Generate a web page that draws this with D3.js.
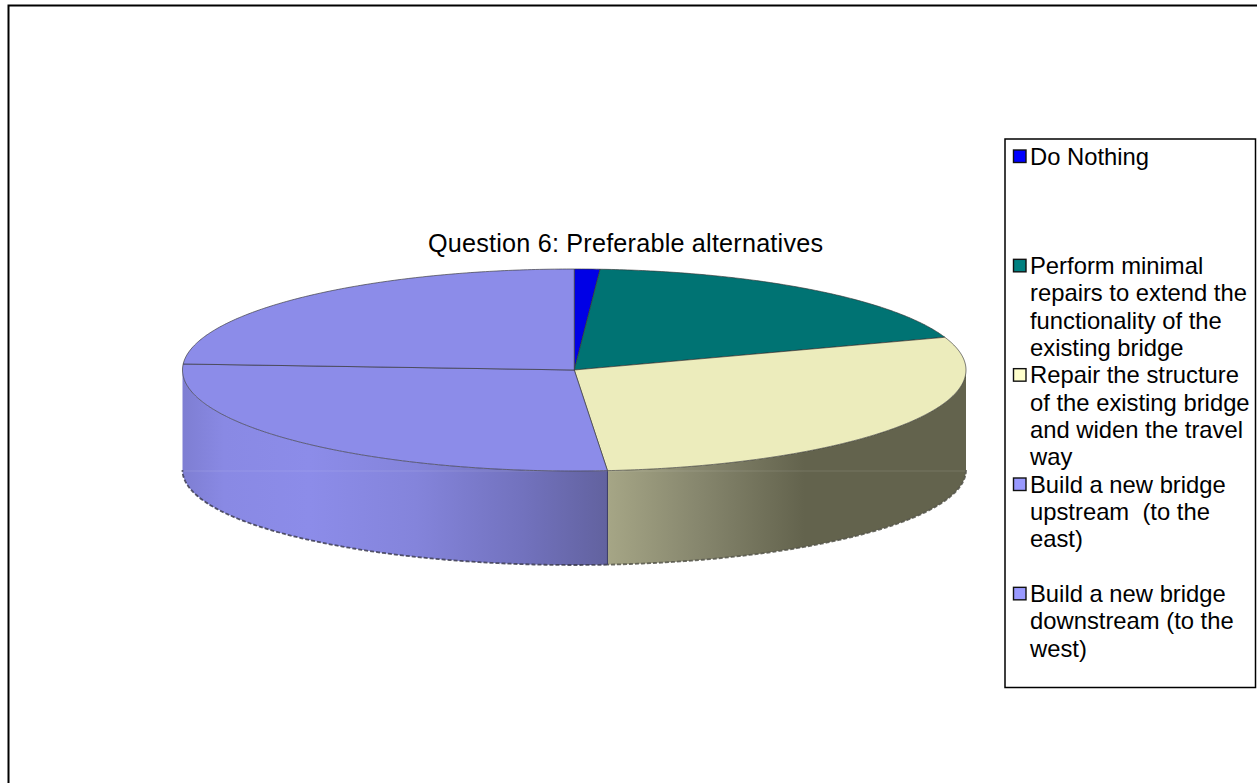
<!DOCTYPE html>
<html><head><meta charset="utf-8">
<script src="https://cdn.jsdelivr.net/npm/d3@7"></script>
<style>html,body{margin:0;padding:0;background:#fff}svg{display:block}text{font-family:"Liberation Sans",Arial,sans-serif;fill:#000}</style>
</head><body><svg id="c" width="1257" height="783"></svg>
<script>
const categories = ["Do Nothing","Perform minimal repairs to extend the functionality of the existing bridge","Repair the structure of the existing bridge and widen the travel way","Build a new bridge upstream  (to the east)","Build a new bridge downstream (to the west)"];
const values = [1.05, 18.7, 28.9, 27.3, 24.05];
const topColors = ["#0000E6","#007373","#ECECBC","#8C8CE9","#8C8CE9"];
const swatchColors = ["#0000FF","#008080","#FFFFCC","#9999FF","#9999FF"];
const legendLines = [
  ["Do Nothing"],
  ["Perform minimal","repairs to extend the","functionality of the","existing bridge"],
  ["Repair the structure","of the existing bridge","and widen the travel","way"],
  ["Build a new bridge","upstream  (to the","east)"],
  ["Build a new bridge","downstream (to the","west)"]
];
const title = "Question 6: Preferable alternatives";

const svg = d3.select("#c");
svg.append("path").attr("d","M8.5,783V5.5H1257").attr("fill","none").attr("stroke","#000").attr("stroke-width",2);

const x = d3.scaleLinear().domain([-1,1]).range([182.5,966]);
const yTop = d3.scaleLinear().domain([-1,1]).range([269,471]);
const yBot = d3.scaleLinear().domain([-1,1]).range([375,565]);
const ptTop = a => [x(Math.sin(a)), yTop(-Math.cos(a))];
const ptBot = a => [x(Math.sin(a)), yBot(-Math.cos(a))];
const line = d3.line();
const samples = (a0,a1) => { const n = Math.max(2,Math.ceil((a1-a0)/0.01)); return d3.range(n+1).map(i=>a0+(a1-a0)*i/n); };

const arcs = d3.pie().sort(null).value(d=>d)(values);

const defs = svg.append("defs");
function grad(id,x0,x1,stops){
  const g = defs.append("linearGradient").attr("id",id).attr("gradientUnits","userSpaceOnUse")
    .attr("x1",x0).attr("x2",x1).attr("y1",0).attr("y2",0);
  stops.forEach(s=>g.append("stop").attr("offset",s[0]).attr("stop-color",s[1]));
}
grad("wall3",607,966,[[0,"#A6A686"],[0.25,"#87876E"],[0.55,"#63634D"],[1,"#63634D"]]);
grad("wall4",182,607,[[0,"#7E7ED2"],[0.1,"#8989E4"],[0.3,"#8C8CE9"],[0.55,"#8484DB"],[0.8,"#7272BE"],[1,"#62629F"]]);
const wallFill = {2:"url(#wall3)",3:"url(#wall4)"};

const front0 = Math.PI/2, front1 = 3*Math.PI/2;
const wallG = svg.append("g"), topG = svg.append("g");

arcs.forEach((d,i)=>{
  const a0 = Math.max(d.startAngle,front0), a1 = Math.min(d.endAngle,front1);
  if (a1 <= a0) return;
  const s = samples(a0,a1);
  const fill = wallFill[i] || topColors[i];
  wallG.append("path").attr("d", line(s.map(ptTop).concat(s.slice().reverse().map(ptBot)))+"Z").attr("fill",fill);
  wallG.append("path").attr("d", line(s.map(ptBot))).attr("fill","none")
    .attr("stroke", i===2 ? "#55554a" : "#3c3c50").attr("stroke-width",1.8).attr("stroke-dasharray","4 2").attr("opacity",.85);
});
const seam = arcs[2].endAngle;
wallG.append("path").attr("d",line([ptTop(seam),ptBot(seam)])).attr("stroke","#3a3a66").attr("stroke-width",1).attr("fill","none");
wallG.append("path").attr("d",line([[x(-1),471],[x(1),471]])).attr("stroke","#fff").attr("stroke-opacity",.12).attr("stroke-width",1);

arcs.forEach((d,i)=>{
  const s = samples(d.startAngle,d.endAngle);
  const pts = [[x(0),yTop(0)]].concat(s.map(ptTop));
  topG.append("path").attr("d",line(pts)+"Z").attr("fill",topColors[i])
    .attr("stroke","#333").attr("stroke-width",.8).attr("stroke-opacity",.8);
});

svg.append("text").attr("x",428).attr("y",251.5).attr("font-size",25.2)
  .attr("textLength",395).attr("lengthAdjust","spacing").text(title);

svg.append("rect").attr("x",1005).attr("y",139).attr("width",250.5).attr("height",548.5)
  .attr("fill","#fff").attr("stroke","#000").attr("stroke-width",1.5);
const lineY = k => 164.5 + (656.5-164.5)/18 * k;
categories.forEach((c,i)=>{
  const first = i*4;
  svg.append("rect").attr("x",1013.5).attr("y",lineY(first)-14.5).attr("width",12.5).attr("height",12.5)
    .attr("fill",swatchColors[i]).attr("stroke","#111").attr("stroke-width",1.4);
  legendLines[i].forEach((t,j)=>{
    svg.append("text").attr("x",1030).attr("y",lineY(first+j)).attr("font-size",23.8)
      .style("white-space","pre").text(t);
  });
});
</script></body></html>
